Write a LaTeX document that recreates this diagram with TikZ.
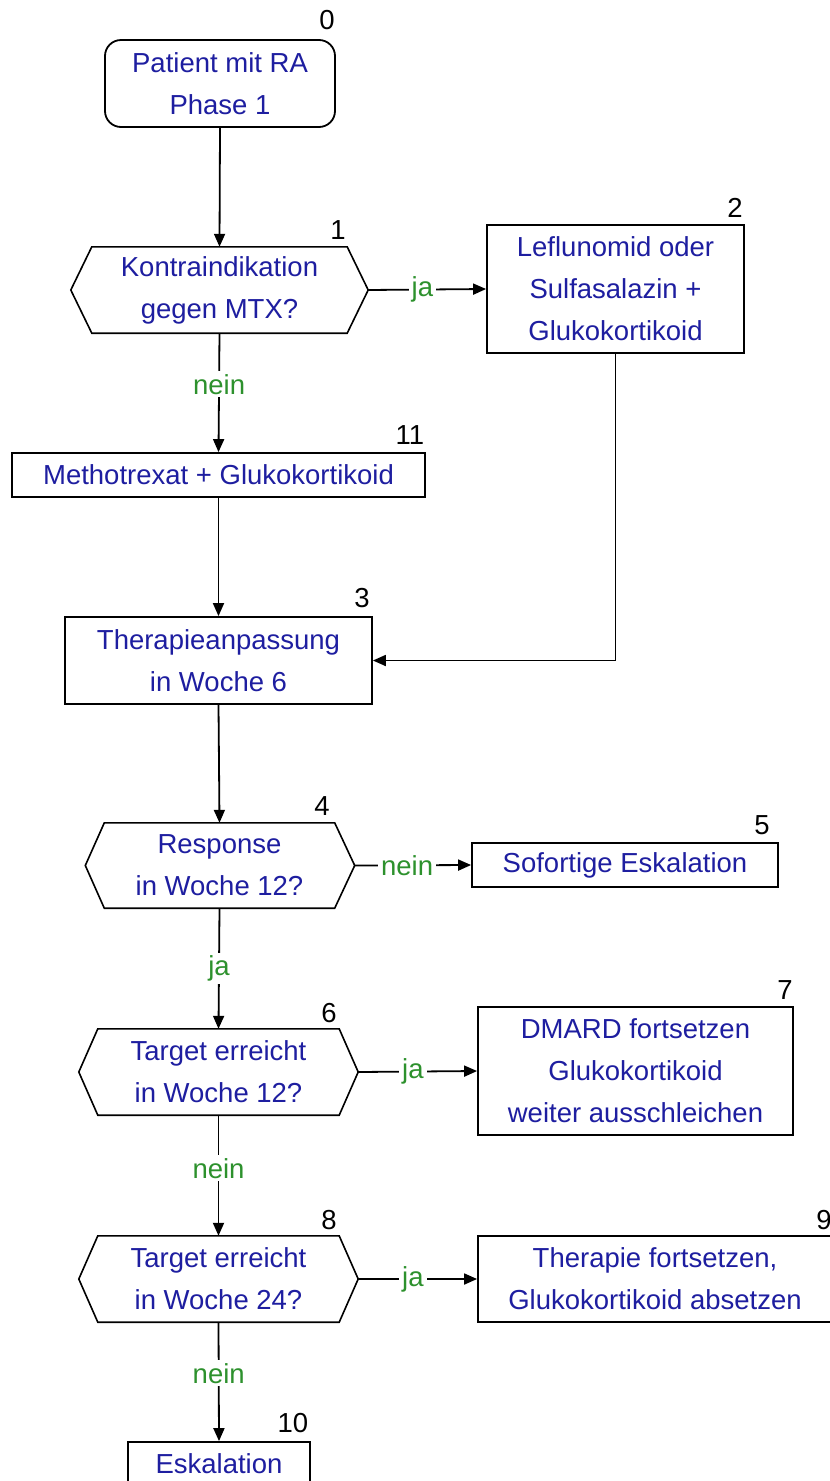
\documentclass[tikz,border=0pt]{standalone}
\usepackage{fontspec}
\setmainfont{Liberation Sans}
\usetikzlibrary{arrows.meta,calc}
\definecolor{txtblue}{RGB}{30,30,160}
\definecolor{lblgreen}{RGB}{45,145,45}
\begin{document}
\begin{tikzpicture}[x=1pt,y=-1pt,
  every node/.style={font=\fontsize{27.5}{42}\selectfont, align=center, inner sep=0pt},
  box/.style={draw, line width=1.8pt, text=txtblue},
  hex/.style={text=txtblue},
  hexline/.style={draw, line width=1.6pt, line join=miter},
  conn/.style={draw, line width=1.8pt, -{Triangle[length=13pt,width=11pt]}},
  lbl/.style={fill=white, text=lblgreen, inner sep=3pt},
  num/.style={text=black}
]
\clip (0,0) rectangle (830,1481);
\fill[white] (0,0) rectangle (830,1481);

% nodes
\node[box, rounded corners=16pt, minimum width=230pt, minimum height=87pt] (n0) at (220,83.5) {Patient mit RA\\Phase 1};

\node[hex, minimum width=255pt, minimum height=86pt] (n1) at (219.5,290) {Kontraindikation\\gegen MTX?};
\draw[hexline] ($(n1.west)+(-21,0)$) coordinate (n1w) -- (n1.north west) -- (n1.north east) -- ($(n1.east)+(21,0)$) coordinate (n1e) -- (n1.south east) -- (n1.south west) -- cycle;

\node[box, minimum width=257pt, minimum height=128pt] (n2) at (615.5,289) {Leflunomid oder\\Sulfasalazin +\\Glukokortikoid};

\node[box, minimum width=413pt, minimum height=44pt] (n11) at (218.5,475) {Methotrexat + Glukokortikoid};

\node[box, minimum width=307pt, minimum height=87pt] (n3) at (218.5,660.5) {Therapieanpassung\\in Woche 6};

\node[hex, minimum width=230pt, minimum height=85pt] (n4) at (219.5,865.5) {Response\\in Woche 12?};
\draw[hexline] ($(n4.west)+(-19,0)$) coordinate (n4w) -- (n4.north west) -- (n4.north east) -- ($(n4.east)+(20,0)$) coordinate (n4e) -- (n4.south east) -- (n4.south west) -- cycle;

\node[box, minimum width=306pt, minimum height=44pt] (n5) at (625,865) {Sofortige Eskalation};

\node[hex, minimum width=241pt, minimum height=86pt] (n6) at (218.5,1072) {Target erreicht\\in Woche 12?};
\draw[hexline] ($(n6.west)+(-19,0)$) coordinate (n6w) -- (n6.north west) -- (n6.north east) -- ($(n6.east)+(19,0)$) coordinate (n6e) -- (n6.south east) -- (n6.south west) -- cycle;

\node[box, minimum width=315pt, minimum height=128pt] (n7) at (635.5,1071) {DMARD fortsetzen\\Glukokortikoid\\weiter ausschleichen};

\node[hex, minimum width=241pt, minimum height=86pt] (n8) at (218.5,1279) {Target erreicht\\in Woche 24?};
\draw[hexline] ($(n8.west)+(-19,0)$) coordinate (n8w) -- (n8.north west) -- (n8.north east) -- ($(n8.east)+(19,0)$) coordinate (n8e) -- (n8.south east) -- (n8.south west) -- cycle;

\node[box, minimum width=354pt, minimum height=86pt] (n9) at (655,1279) {Therapie fortsetzen,\\Glukokortikoid absetzen};

\node[box, minimum width=182pt, minimum height=44pt] (n10) at (219,1464) {Eskalation};

% number labels
\node[num] (l0) at (327,20) {0};
\node[num] (l1) at (338,230) {1};
\node[num] (l2) at (735,208) {2};
\node[num] (l11) at (410,435) {11};
\node[num] (l3) at (362,598) {3};
\node[num] (l4) at (322,806) {4};
\node[num] (l5) at (762,825) {5};
\node[num] (l6) at (329,1013) {6};
\node[num] (l7) at (785,990) {7};
\node[num] (l8) at (329,1220) {8};
\node[num] (l9) at (824,1220) {9};
\node[num] (l10) at (293,1423) {10};

% connectors
\draw[conn] (n0.south) -- (n1.north);
\draw[conn] (n1e) -- node[lbl, pos=0.46] {ja} (n2.west);
\draw[conn] (n1.south) -- node[lbl, pos=0.43] {nein} (n11.north);
\draw[conn] (n11.south) -- (n3.north);
\draw[conn] (n2.south) |- (n3.east);
\draw[conn] (n3.south) -- (n4.north);
\draw[conn] (n4e) -- node[lbl, pos=0.45] {nein} (n5.west);
\draw[conn] (n4.south) -- node[lbl, pos=0.5] {ja} (n6.north);
\draw[conn] (n6e) -- node[lbl, pos=0.46] {ja} (n7.west);
\draw[conn] (n6.south) -- node[lbl, pos=0.44] {nein} (n8.north);
\draw[conn] (n8e) -- node[lbl, pos=0.46] {ja} (n9.west);
\draw[conn] (n8.south) -- node[lbl, pos=0.43] {nein} (n10.north);
\end{tikzpicture}
\end{document}
